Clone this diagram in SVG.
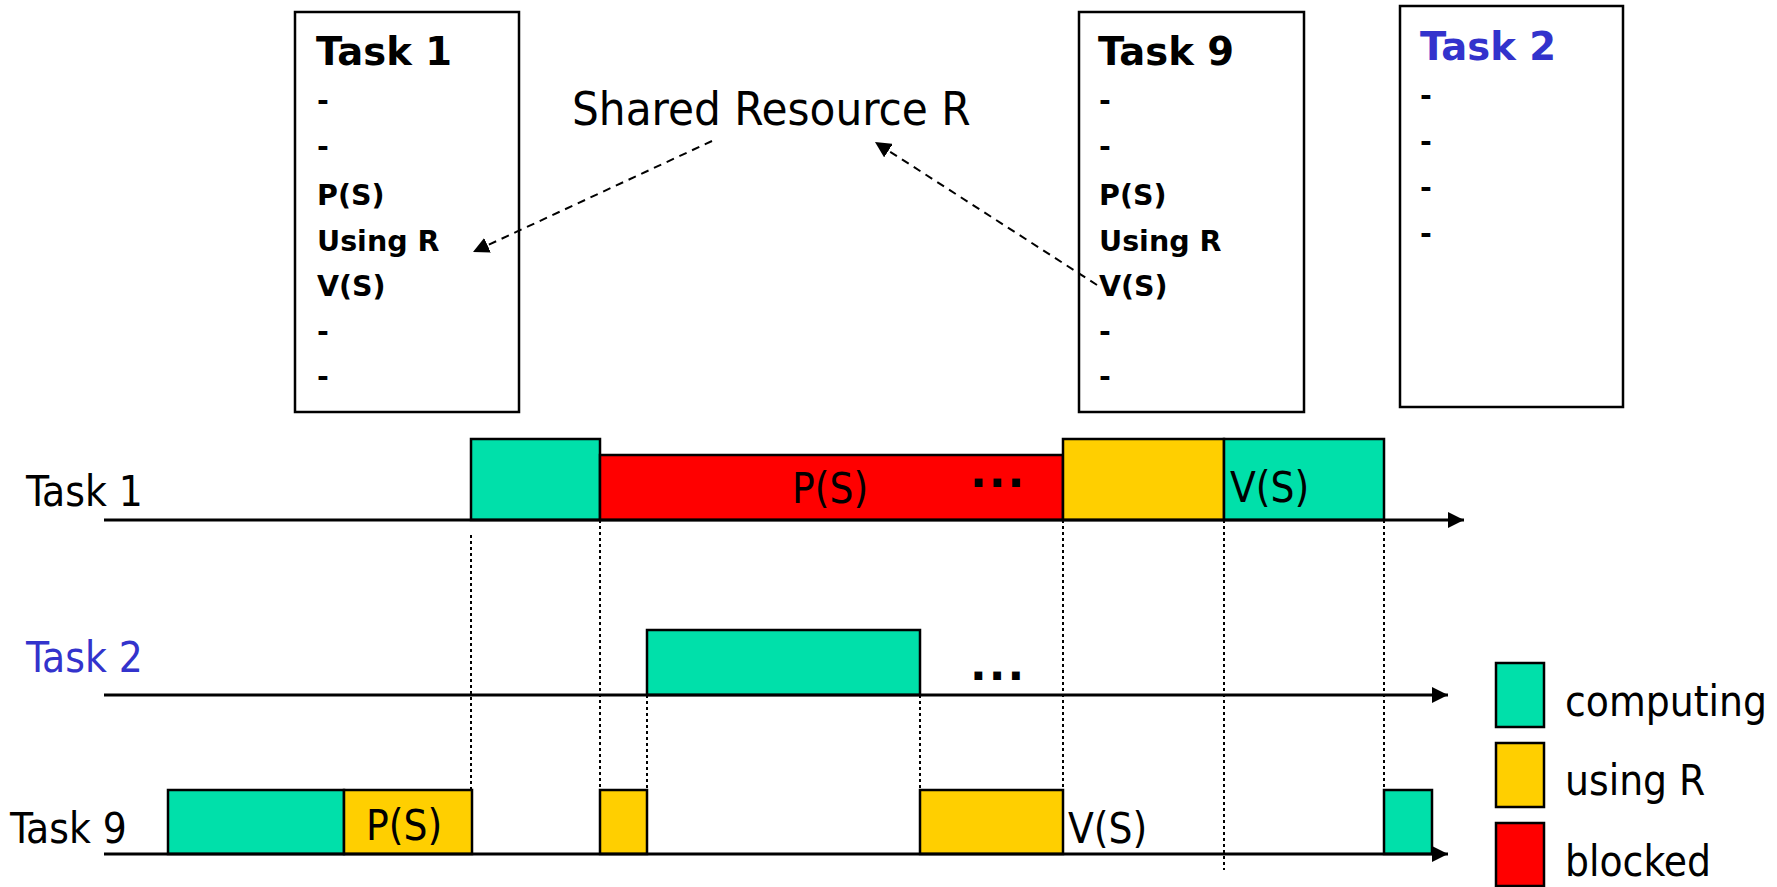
<svg xmlns="http://www.w3.org/2000/svg" width="1777" height="887" viewBox="0 0 1777 887">
<defs>
<style>
.box{fill:#fff;stroke:#000;stroke-width:2.5}
.bar{stroke:#000;stroke-width:2.5}
.comp{fill:#00E0AA}
.use{fill:#FFCF00}
.blk{fill:#FF0000}
.title{font-family:"DejaVu Sans",Verdana,sans-serif;font-weight:bold;font-size:38.5px;fill:#000}
.item{font-family:"DejaVu Sans",Verdana,sans-serif;font-weight:bold;font-size:28.5px;fill:#000}
.lbl{font-family:"DejaVu Sans Condensed","DejaVu Sans",sans-serif;font-stretch:condensed;font-size:42px;fill:#000}
.big{font-family:"DejaVu Sans Condensed","DejaVu Sans",sans-serif;font-stretch:condensed;font-size:47px;fill:#000}
.dots{font-family:"DejaVu Sans",sans-serif;font-weight:bold;font-size:44px;letter-spacing:2px;fill:#000}
.blue{fill:#3333CC}
.axis{stroke:#000;stroke-width:3;fill:none}
.dot{stroke:#000;stroke-width:2;stroke-dasharray:3 3;fill:none}
.dash{stroke:#000;stroke-width:2;stroke-dasharray:8 6;fill:none}
</style>
<marker id="ah" viewBox="0 0 10 10" refX="10" refY="5" markerWidth="16" markerHeight="16" markerUnits="userSpaceOnUse" orient="auto">
<path d="M0,0 L10,5 L0,10 z" fill="#000"/>
</marker>
<marker id="ax" viewBox="0 0 10 10" refX="10" refY="5" markerWidth="16" markerHeight="16" markerUnits="userSpaceOnUse" orient="auto">
<path d="M0,0 L10,5 L0,10 z" fill="#000"/>
</marker>
</defs>

<g id="task1-box">
<rect class="box" x="295" y="12" width="224" height="400"/>
<text class="title" x="316" y="65">Task 1</text>
<text class="item" x="317" y="110">-</text>
<text class="item" x="317" y="156">-</text>
<text class="item" x="317" y="205">P(S)</text>
<text class="item" x="317" y="251">Using R</text>
<text class="item" x="317" y="296">V(S)</text>
<text class="item" x="317" y="341">-</text>
<text class="item" x="317" y="386">-</text>
</g>

<g id="task9-box">
<rect class="box" x="1079" y="12" width="225" height="400"/>
<text class="title" x="1098" y="65">Task 9</text>
<text class="item" x="1099" y="110">-</text>
<text class="item" x="1099" y="156">-</text>
<text class="item" x="1099" y="205">P(S)</text>
<text class="item" x="1099" y="251">Using R</text>
<text class="item" x="1099" y="296">V(S)</text>
<text class="item" x="1099" y="341">-</text>
<text class="item" x="1099" y="386">-</text>
</g>

<g id="task2-box">
<rect class="box" x="1400" y="6" width="223" height="401"/>
<text class="title blue" x="1420" y="60">Task 2</text>
<text class="item" x="1420" y="105">-</text>
<text class="item" x="1420" y="151">-</text>
<text class="item" x="1420" y="197">-</text>
<text class="item" x="1420" y="243">-</text>
</g>

<g id="shared-resource">
<text class="big" x="572" y="125">Shared Resource R</text>
</g>

<g id="timeline-task1">
<text class="lbl" x="26" y="506">Task 1</text>
<rect class="bar comp" x="471" y="439" width="129" height="81"/>
<rect class="bar blk" x="600" y="455" width="463" height="65"/>
<rect class="bar use" x="1063" y="439" width="161" height="81"/>
<rect class="bar comp" x="1224" y="439" width="160" height="81"/>
<text class="lbl" x="792" y="503">P(S)</text>
<text class="dots" x="970" y="487">...</text>
<text class="lbl" x="1230" y="502">V(S)</text>
</g>

<g id="timeline-task2">
<text class="lbl blue" x="26" y="672">Task 2</text>
<rect class="bar comp" x="647" y="630" width="273" height="65"/>
<text class="dots" x="970" y="680">...</text>
</g>

<g id="timeline-task9">
<text class="lbl" x="10" y="843">Task 9</text>
<rect class="bar comp" x="168" y="790" width="176" height="64"/>
<rect class="bar use" x="344" y="790" width="128" height="64"/>
<rect class="bar use" x="600" y="790" width="47" height="64"/>
<rect class="bar use" x="920" y="790" width="143" height="64"/>
<rect class="bar comp" x="1384" y="790" width="48" height="64"/>
<text class="lbl" x="366" y="840">P(S)</text>
<text class="lbl" x="1068" y="843">V(S)</text>
</g>

<g id="legend">
<rect class="bar comp" x="1496" y="663" width="48" height="64"/>
<rect class="bar use" x="1496" y="743" width="48" height="64"/>
<rect class="bar blk" x="1496" y="823" width="48" height="63"/>
<text class="lbl" x="1565" y="716">computing</text>
<text class="lbl" x="1565" y="795">using R</text>
<text class="lbl" x="1565" y="876">blocked</text>
</g>

<g id="connectors">
<line class="axis" x1="104" y1="520" x2="1464" y2="520" marker-end="url(#ax)"/>
<line class="axis" x1="104" y1="695" x2="1448" y2="695" marker-end="url(#ax)"/>
<line class="axis" x1="104" y1="854" x2="1448" y2="854" marker-end="url(#ax)"/>
<line class="dot" x1="471" y1="535" x2="471" y2="790"/>
<line class="dot" x1="600" y1="520" x2="600" y2="790"/>
<line class="dot" x1="647" y1="695" x2="647" y2="790"/>
<line class="dot" x1="920" y1="695" x2="920" y2="790"/>
<line class="dot" x1="1063" y1="520" x2="1063" y2="790"/>
<line class="dot" x1="1224" y1="520" x2="1224" y2="870"/>
<line class="dot" x1="1384" y1="520" x2="1384" y2="790"/>
<line class="dash" x1="712" y1="141" x2="473" y2="252" marker-end="url(#ah)"/>
<line class="dash" x1="1097" y1="285" x2="875" y2="142" marker-end="url(#ah)"/>
</g>
</svg>
